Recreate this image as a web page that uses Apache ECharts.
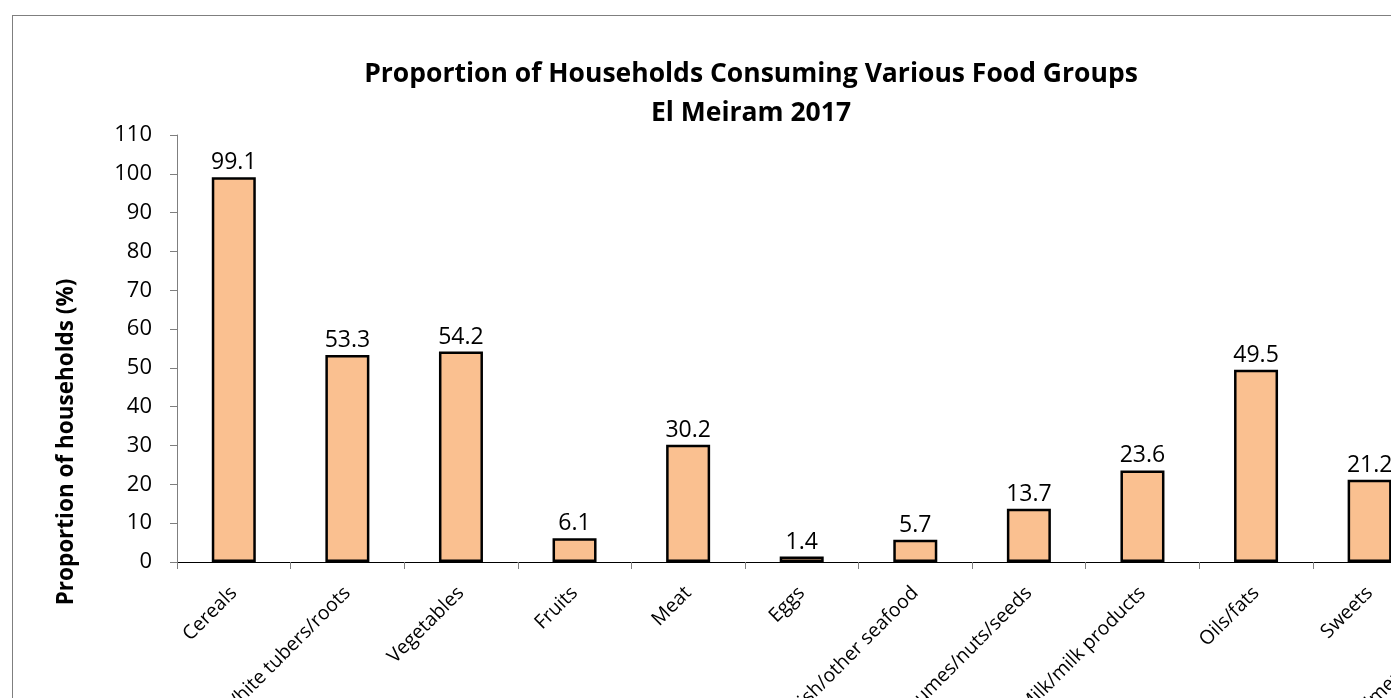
<!DOCTYPE html>
<html>
<head>
<meta charset="utf-8">
<script src="https://cdn.jsdelivr.net/npm/echarts@6/dist/echarts.min.js"></script>
<style>
  html, body { margin: 0; padding: 0; background: #ffffff; overflow: hidden; width: 1391px; height: 698px; }
  #frame { position: absolute; left: 12px; top: 15px; width: 1700px; height: 820px;
           border: 1px solid #7f7f7f; box-sizing: border-box; background: #ffffff; }
  #chart { position: absolute; left: 0; top: 0; width: 1698px; height: 818px; }
</style>
</head>
<body>
<div id="frame"><div id="chart"></div></div>
<script>
// Food groups and share of households consuming each (%)
var foodGroups = [
  'Cereals', 'White tubers/roots', 'Vegetables', 'Fruits', 'Meat', 'Eggs',
  'Fish/other seafood', 'Legumes/nuts/seeds', 'Milk/milk products', 'Oils/fats',
  'Sweets', 'Spices/condiments/beverages'
];
var householdShare = [99.1, 53.3, 54.2, 6.1, 30.2, 1.4, 5.7, 13.7, 23.6, 49.5, 21.2, null];
var titleLines = ['Proportion of Households Consuming Various Food Groups', 'El Meiram 2017'];
var yAxisTitle = 'Proportion of households (%)';

var FONT = '"Open Sans", Lato, sans-serif';
var chart = echarts.init(document.getElementById('chart'), null, { renderer: 'canvas' });

chart.setOption({
  animation: false,
  backgroundColor: '#ffffff',
  title: {
    text: titleLines.join('\n'),
    left: 733,
    top: 34,
    textAlign: 'center',
    textStyle: { fontFamily: FONT, fontWeight: 'bold', fontSize: 26.5, lineHeight: 39, color: '#000000' }
  },
  graphic: [{
    type: 'text',
    x: 54,
    y: 426,
    rotation: Math.PI / 2,
    style: {
      text: yAxisTitle,
      fontFamily: FONT, fontWeight: 'bold', fontSize: 22.5,
      fill: '#000000', align: 'center', verticalAlign: 'middle'
    }
  }],
  grid: { left: 164, top: 119, width: 1363, height: 427, containLabel: false },
  xAxis: {
    type: 'category',
    data: foodGroups,
    boundaryGap: true,
    axisLine: { show: true, lineStyle: { color: '#000000', width: 1 } },
    axisTick: { show: true, alignWithLabel: false, length: 7, inside: false, lineStyle: { color: '#7f7f7f', width: 1 } },
    axisLabel: {
      interval: 0, rotate: 45, margin: 28,
      fontFamily: FONT, fontSize: 19.5, color: '#000000'
    }
  },
  yAxis: {
    type: 'value',
    min: 0, max: 110, interval: 10,
    axisLine: { show: true, lineStyle: { color: '#7f7f7f', width: 1 } },
    axisTick: { show: true, length: 7, lineStyle: { color: '#7f7f7f', width: 1 } },
    axisLabel: { margin: 25, fontFamily: FONT, fontSize: 22, color: '#000000' },
    splitLine: { show: false }
  },
  series: [{
    type: 'bar',
    data: householdShare,
    barWidth: 44,
    itemStyle: { color: '#FAC090', borderColor: '#000000', borderWidth: 2.5 },
    label: {
      show: true, position: 'top', distance: 3,
      fontFamily: FONT, fontSize: 23, color: '#000000',
      formatter: function (p) { return p.value == null ? '' : p.value.toFixed(1); }
    }
  }]
});
</script>
</body>
</html>
